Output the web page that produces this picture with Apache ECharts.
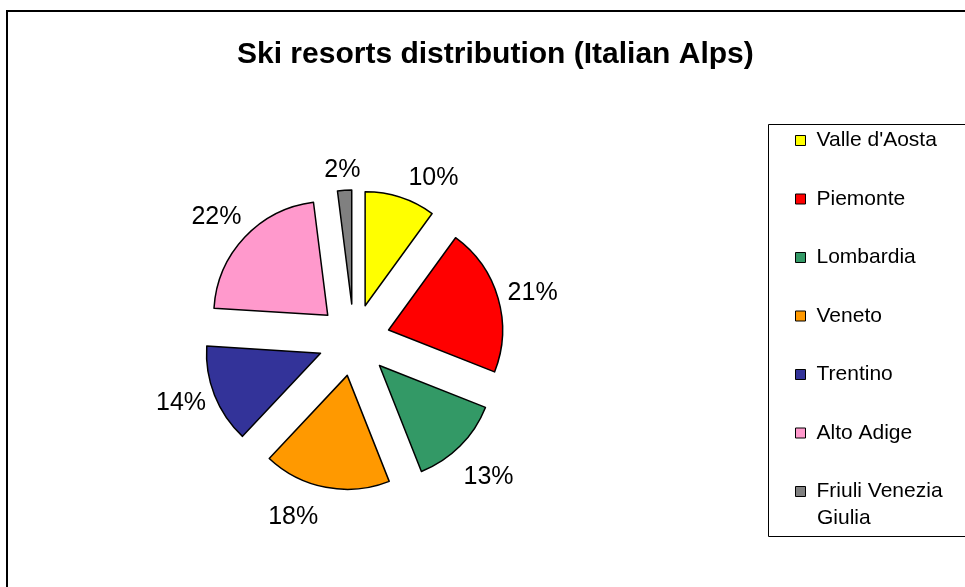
<!DOCTYPE html>
<html>
<head>
<meta charset="utf-8">
<script src="https://cdn.jsdelivr.net/npm/echarts@6/dist/echarts.min.js"></script>
<style>
  html, body { margin: 0; padding: 0; background: #fff; }
  #main { width: 965px; height: 587px; }
</style>
</head>
<body>
<div id="main"></div>
<script>
// regions and share of ski resorts (%)
const regions = ['Valle d\'Aosta', 'Piemonte', 'Lombardia', 'Veneto', 'Trentino', 'Alto Adige', 'Friuli Venezia Giulia'];
const shares = [10, 21, 13, 18, 14, 22, 2];
const colors = ['#FFFF00', '#FF0000', '#339966', '#FF9900', '#333399', '#FF99CC', '#808080'];

const font = 'Liberation Sans, Arial, sans-serif';
const chart = echarts.init(document.getElementById('main'));

const pieCenter = [354, 340];
const explode = 36;
// small nudges for labels that Excel placed off the mid angle
const labelNudge = { 0: [22, 15], 1: [0, 5], 2: [3, 6], 3: [-26, -6], 4: [0, -5], 5: [-2, 4], 6: [0, 16] };

chart.setOption({
  animation: false,
  color: colors,
  title: {
    text: 'Ski resorts distribution (Italian Alps)',
    left: 237,
    top: 40,
    padding: 0,
    textStyle: { fontFamily: font, fontSize: 30, fontWeight: 'bold', color: '#000' }
  },
  legend: {
    orient: 'vertical',
    left: 795,
    top: 130,
    padding: 0,
    itemWidth: 10,
    itemHeight: 10,
    itemGap: 37.5,
    itemTextGap: 12,
    icon: 'rect',
    selectedMode: false,
    itemStyle: { borderColor: '#000', borderWidth: 1 },
    textStyle: { fontFamily: font, fontSize: 21, color: '#000', lineHeight: 21, padding: [0, 0, 0, 6] },
    // second line of the last name is drawn below as its own text
    formatter: function (name) {
      return name === 'Friuli Venezia Giulia' ? 'Friuli Venezia' : name;
    },
    data: regions
  },
  graphic: [
    {
      type: 'rect',
      shape: { x: 7, y: 11, width: 980, height: 600 },
      style: { fill: 'none', stroke: '#000', lineWidth: 2 },
      silent: true
    },
    {
      type: 'rect',
      shape: { x: 768.5, y: 124.5, width: 220, height: 412 },
      style: { fill: 'none', stroke: '#000', lineWidth: 1 },
      silent: true
    },
    {
      type: 'text',
      x: 817,
      y: 518,
      style: { text: 'Giulia', font: '21px ' + font, fill: '#000', textVerticalAlign: 'middle' },
      silent: true
    }
  ],
  series: [
    {
      type: 'pie',
      center: pieCenter,
      radius: 114,
      startAngle: 90,
      clockwise: true,
      selectedMode: 'multiple',
      selectedOffset: explode,
      emphasis: { disabled: true },
      itemStyle: { borderColor: '#000', borderWidth: 1.5 },
      label: { show: false },
      labelLine: { show: false },
      data: regions.map(function (r, i) {
        return { name: r, value: shares[i], selected: true };
      })
    },
    {
      // invisible ring only carrying the percentage labels
      type: 'pie',
      silent: true,
      center: pieCenter,
      radius: [140, 154],
      startAngle: 90,
      clockwise: true,
      selectedMode: 'multiple',
      selectedOffset: explode,
      emphasis: { disabled: true },
      itemStyle: { color: 'rgba(0,0,0,0)', borderWidth: 0 },
      label: {
        show: true,
        position: 'inside',
        fontFamily: font,
        fontSize: 25,
        color: '#000',
        formatter: function (p) { return p.value + '%'; }
      },
      labelLine: { show: false },
      labelLayout: function (params) {
        const n = labelNudge[params.dataIndex];
        return n ? { dx: n[0], dy: n[1] } : {};
      },
      data: regions.map(function (r, i) {
        return { name: r, value: shares[i], selected: true };
      })
    }
  ]
});
</script>
</body>
</html>
